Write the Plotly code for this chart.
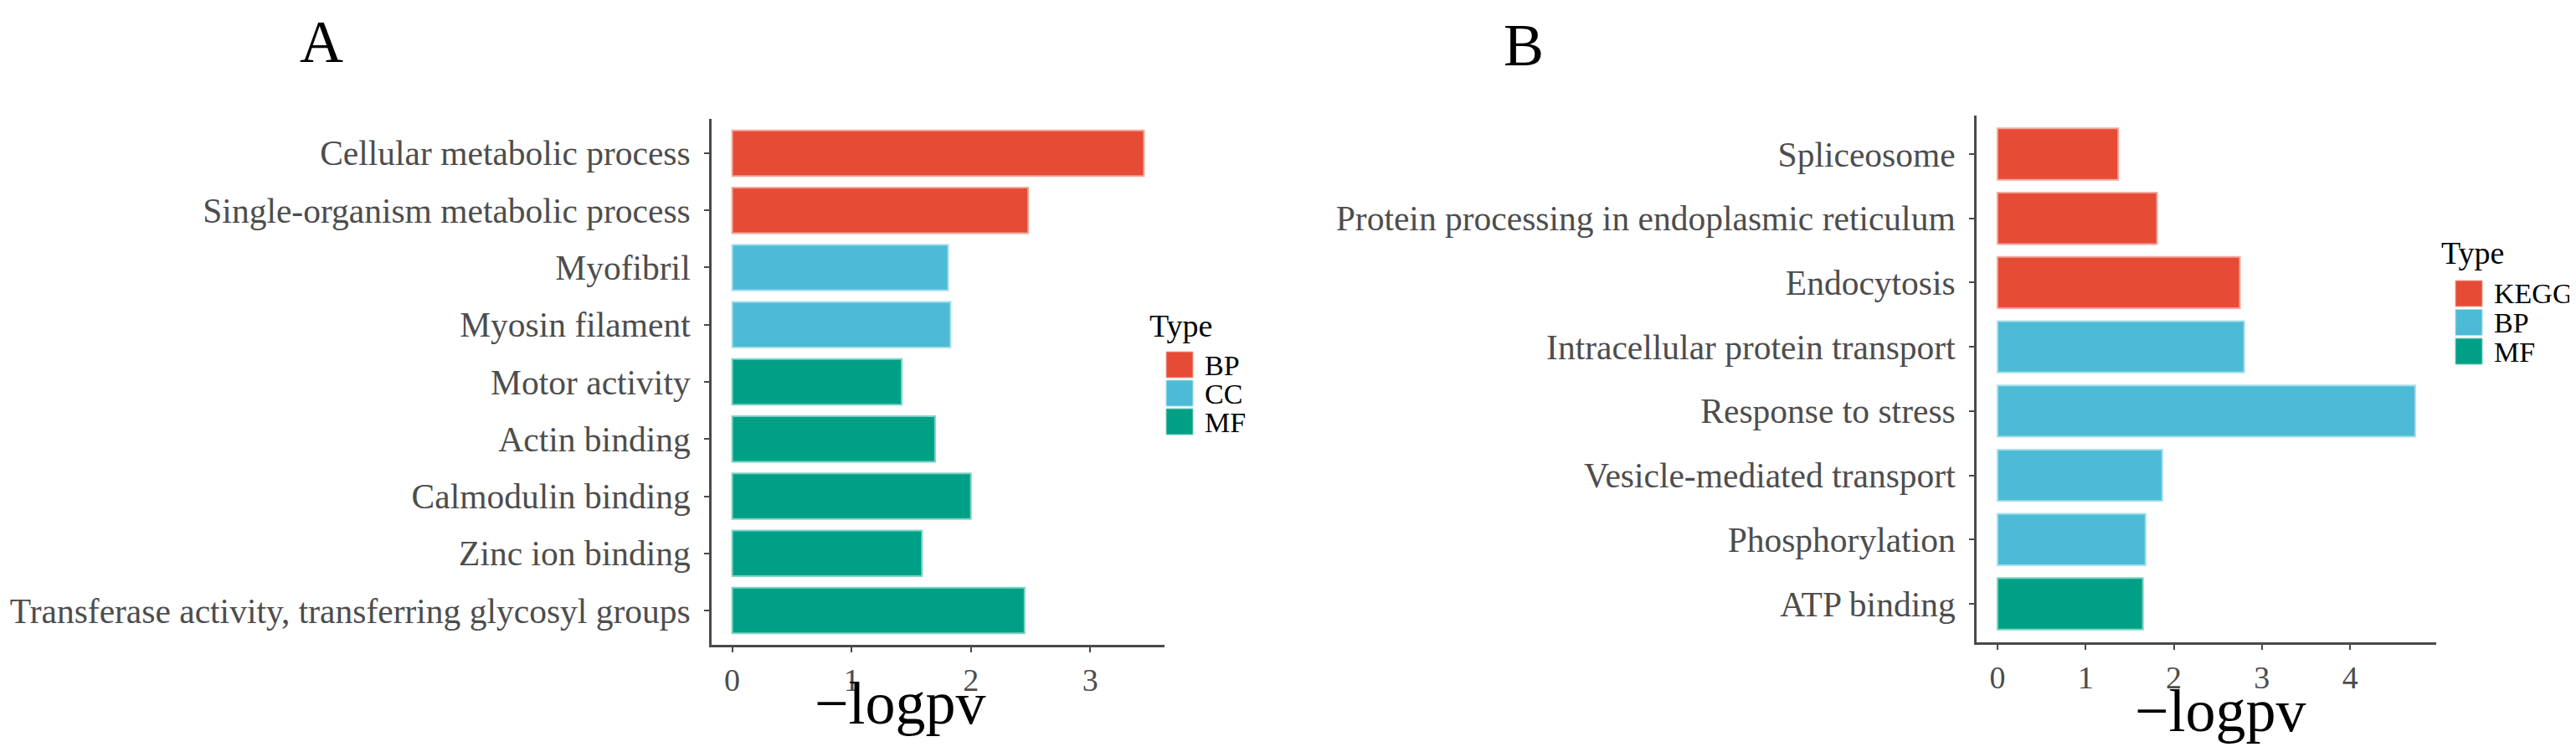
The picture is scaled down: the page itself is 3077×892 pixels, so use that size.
import plotly.graph_objects as go

# ---------------- data ----------------
terms_a = ["Cellular metabolic process", "Single-organism metabolic process", "Myofibril",
           "Myosin filament", "Motor activity", "Actin binding", "Calmodulin binding",
           "Zinc ion binding", "Transferase activity, transferring glycosyl groups"]
values_a = [3.45, 2.48, 1.81, 1.83, 1.42, 1.70, 2.00, 1.59, 2.45]
types_a = ["BP", "BP", "CC", "CC", "MF", "MF", "MF", "MF", "MF"]
legend_a = ["BP", "CC", "MF"]

terms_b = ["Spliceosome", "Protein processing in endoplasmic reticulum", "Endocytosis",
           "Intracellular protein transport", "Response to stress", "Vesicle-mediated transport",
           "Phosphorylation", "ATP binding"]
values_b = [1.37, 1.81, 2.75, 2.80, 4.74, 1.87, 1.68, 1.65]
types_b = ["KEGG", "KEGG", "KEGG", "BP", "BP", "BP", "BP", "MF"]
legend_b = ["KEGG", "BP", "MF"]

colors_a = {"BP": "#E64B35", "CC": "#4DBBD5", "MF": "#00A087"}
colors_b = {"KEGG": "#E64B35", "BP": "#4DBBD5", "MF": "#00A087"}
edge = {"#E64B35": "#F4A79C", "#4DBBD5": "#A9E0EC", "#00A087": "#7FD3C5"}

W, H = 3077, 892
FONT = "Liberation Serif"

def px(x):
    return x / W

def py(y):
    return 1 - y / H

fig = go.Figure()

def add_panel(terms, values, types, cmap, xa, ya):
    for t in cmap:
        ys = [terms[i] for i in range(len(terms)) if types[i] == t]
        xs = [values[i] for i in range(len(terms)) if types[i] == t]
        if not xs:
            continue
        fig.add_trace(go.Bar(
            x=xs, y=ys, orientation="h", width=0.8,
            marker=dict(color=cmap[t], line=dict(color=edge[cmap[t]], width=2)),
            xaxis=xa, yaxis=ya, showlegend=False, name=t))

add_panel(terms_a, values_a, types_a, colors_a, "x", "y")
add_panel(terms_b, values_b, types_b, colors_b, "x2", "y2")

def xrange(vals):
    m = max(vals)
    return [-0.05 * m, m * 1.05]

axis_common = dict(showline=True, linecolor="#4a4a4a", linewidth=3, ticks="outside",
                   ticklen=6, tickwidth=2, tickcolor="#4a4a4a", showgrid=False,
                   zeroline=False)
xfont = dict(family=FONT, size=38, color="#4D4D4D")
yfont = dict(family=FONT, size=41.5, color="#4D4D4D")

fig.update_layout(
    width=W, height=H, plot_bgcolor="white", paper_bgcolor="white",
    margin=dict(l=0, r=0, t=0, b=0), barmode="overlay", showlegend=False,
    font=dict(family=FONT),
    xaxis=dict(domain=[px(842), px(1383)], anchor="y", range=xrange(values_a),
               tickvals=[0, 1, 2, 3], tickfont=xfont, **axis_common),
    yaxis=dict(domain=[py(762), py(134)], anchor="x", type="category",
               categoryorder="array", categoryarray=terms_a,
               range=[len(terms_a) - 0.4, -0.6], tickfont=yfont,
               ticklabelstandoff=8, **axis_common),
    xaxis2=dict(domain=[px(2353), px(2902)], anchor="y2", range=xrange(values_b),
                tickvals=[0, 1, 2, 3, 4], tickfont=xfont, **axis_common),
    yaxis2=dict(domain=[py(759), py(130)], anchor="x2", type="category",
                categoryorder="array", categoryarray=terms_b,
                range=[len(terms_b) - 0.4, -0.6], tickfont=yfont,
                ticklabelstandoff=8, **axis_common),
)

ann = []
shapes = []

def text(t, x, y, size, xanchor="center", yanchor="middle"):
    ann.append(dict(text=t, x=px(x), y=py(y), xref="paper", yref="paper",
                    xanchor=xanchor, yanchor=yanchor, showarrow=False,
                    font=dict(family=FONT, size=size, color="black")))

# panel letters
text("A", 376, 0, 72, yanchor="top")
text("B", 1812, 4, 72, yanchor="top")
# axis titles
text("\u2212logpv", 1067, 874, 72, yanchor="bottom")
text("\u2212logpv", 2644, 883, 72, yanchor="bottom")

# legends (drawn as keys)
def add_legend(labels, cmap, title_x, title_y, key_x, key_y0, step):
    text("Type", title_x, title_y, 38, xanchor="left")
    for i, lab in enumerate(labels):
        y0 = key_y0 + i * step
        shapes.append(dict(type="rect", xref="paper", yref="paper",
                           x0=px(key_x), x1=px(key_x + 32), y0=py(y0), y1=py(y0 + 31),
                           fillcolor=cmap[lab], line=dict(width=1, color=edge[cmap[lab]])))
        text(lab, key_x + 44, y0 + 16, 34, xanchor="left")

add_legend(legend_a, colors_a, 1363, 381, 1385, 412, 34)
add_legend(legend_b, colors_b, 2906, 294, 2925, 327, 34.5)

fig.update_layout(annotations=ann, shapes=shapes)
fig.write_html("out.html")
